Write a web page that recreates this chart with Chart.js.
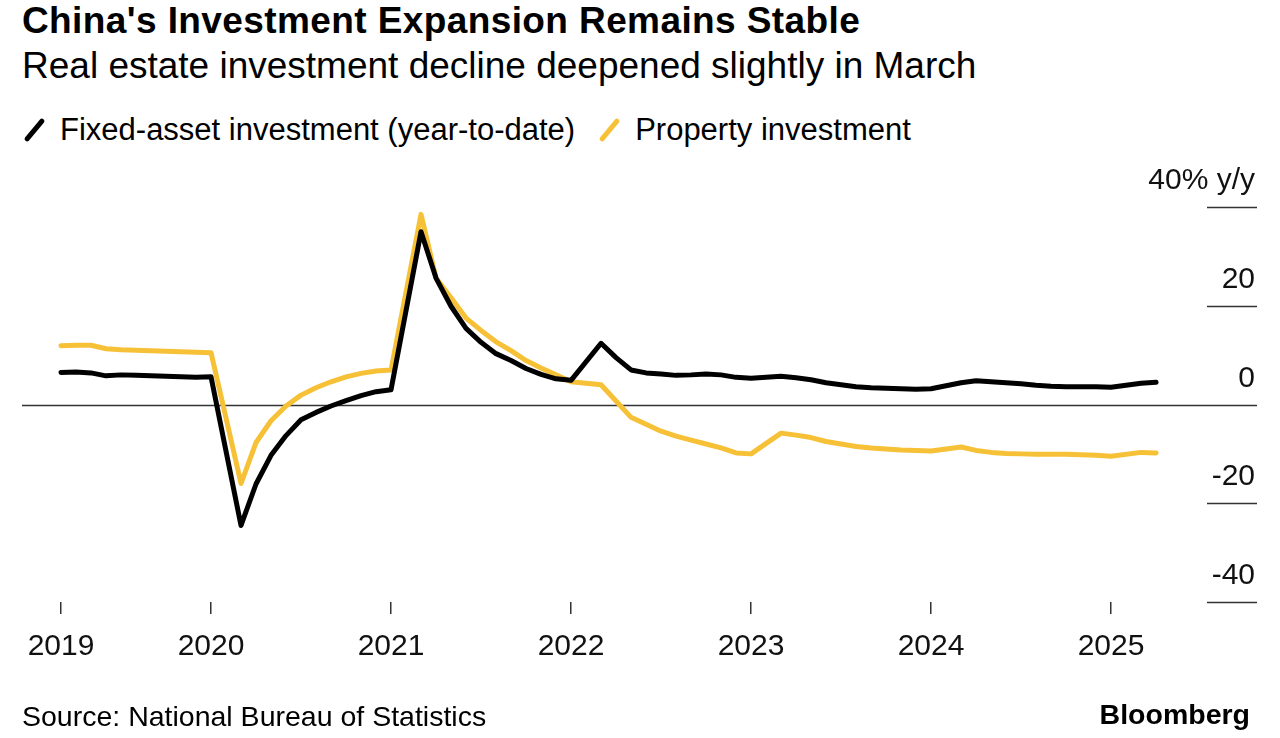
<!DOCTYPE html>
<html lang="en">
<head>
  <meta charset="UTF-8" />
  <title>China's Investment Expansion Remains Stable</title>
  <style>
    body {
      margin: 0;
      width: 1280px;
      height: 738px;
      overflow: hidden;
      position: relative;
      background: #fff;
      color: #000;
      font-family: 'Liberation Sans', Arial, sans-serif;
    }
    .title, .subtitle, .legend, .source, .brand { position: absolute; line-height: 1; white-space: nowrap; }
    .title {
      left: 22px;
      top: 2px;
      font-size: 37px;
      font-weight: bold;
      letter-spacing: 0.4px;
    }
    .subtitle {
      left: 22px;
      top: 47px;
      font-size: 37px;
    }
    .legend {
      left: 22px;
      top: 114px;
      font-size: 31px;
      display: flex;
      align-items: center;
    }
    .legend .item { display: flex; align-items: center; margin-right: 22px; }
    .legend .swatch {
      width: 5px;
      height: 28px;
      border-radius: 3px;
      transform: rotate(40deg);
      margin: 0 23px 0 10px;
    }
    .source {
      left: 22px;
      top: 702px;
      font-size: 28.5px;
    }
    .brand {
      right: 30px;
      top: 700px;
      font-size: 28.5px;
      font-weight: bold;
    }
    canvas { position: absolute; left: 0; top: 0; }
  </style>
</head>
<body>
  <div class="title">China's Investment Expansion Remains Stable</div>
  <div class="subtitle">Real estate investment decline deepened slightly in March</div>
  <div class="legend">
    <div class="item"><span class="swatch" style="background:#000"></span>Fixed-asset investment (year-to-date)</div>
    <div class="item"><span class="swatch" style="background:#F6C136"></span>Property investment</div>
  </div>
  <canvas id="chart" width="1280" height="738"></canvas>
  <div class="source">Source: National Bureau of Statistics</div>
  <div class="brand">Bloomberg</div>

  <script src="https://cdn.jsdelivr.net/npm/chart.js"></script>
  <script>
    // periods: month-end readings, Jan is folded into Feb
    const years = [2019, 2020, 2021, 2022, 2023, 2024, 2025];
    const months = [2, 3, 4, 5, 6, 7, 8, 9, 10, 11, 12];
    const lastYearMonths = [2, 3];

    // % y/y
    const fixedAsset = [
      6.5, 6.6, 6.4, 5.8, 6.0, 5.9, 5.8, 5.7, 5.6, 5.5, 5.6,            // 2019
      -24.5, -16.1, -10.3, -6.3, -3.1, -1.6, -0.3, 0.8, 1.8, 2.6, 3.0,   // 2020
      35.0, 25.6, 19.9, 15.4, 12.6, 10.3, 8.9, 7.3, 6.1, 5.2, 4.9,       // 2021
      12.4, 9.5, 7.0, 6.4, 6.2, 5.9, 6.0, 6.2, 6.0, 5.5, 5.3,            // 2022
      5.7, 5.4, 5.0, 4.4, 4.0, 3.6, 3.4, 3.3, 3.2, 3.1, 3.2,             // 2023
      4.4, 4.8, 4.6, 4.4, 4.2, 3.9, 3.7, 3.6, 3.6, 3.6, 3.5,             // 2024
      4.3, 4.5                                                           // 2025
    ];
    const property = [
      11.9, 12.0, 12.0, 11.3, 11.1, 11.0, 10.9, 10.8, 10.7, 10.6, 10.5,  // 2019
      -16.0, -7.7, -3.3, -0.3, 1.9, 3.4, 4.6, 5.6, 6.3, 6.8, 7.0,        // 2020
      38.5, 25.6, 21.6, 17.5, 15.0, 12.7, 10.9, 8.9, 7.4, 6.0, 4.6,      // 2021
      4.0, 0.7, -2.6, -4.0, -5.4, -6.4, -7.2, -8.0, -8.8, -9.8, -10.0,   // 2022
      -5.8, -6.2, -6.7, -7.5, -8.0, -8.5, -8.8, -9.0, -9.2, -9.3, -9.4,  // 2023
      -8.6, -9.3, -9.7, -9.9, -10.0, -10.1, -10.1, -10.1, -10.2, -10.3, -10.5, // 2024
      -9.7, -9.8                                                         // 2025
    ];

    const xTicks = [2019 + 2 / 12, 2020, 2021, 2022, 2023, 2024, 2025];
    const xTickLabels = ['2019', '2020', '2021', '2022', '2023', '2024', '2025'];
    const yTicks = [40, 20, 0, -20, -40];
    const yTickLabels = ['40% y/y', '20', '0', '-20', '-40'];

    // x position = year + month/12 (end of month)
    const xs = [];
    years.forEach(y => {
      const ms = y === 2025 ? lastYearMonths : months;
      ms.forEach(m => xs.push(y + m / 12));
    });
    const toPoints = arr => arr.map((v, i) => ({ x: xs[i], y: v }));

    const rightAxis = {
      id: 'rightAxis',
      beforeDatasetsDraw(chart) {
        const { ctx, chartArea, scales: { y } } = chart;
        const edge = chart.width - 23;
        ctx.save();
        ctx.strokeStyle = '#333';
        ctx.lineWidth = 1.5;
        ctx.fillStyle = '#111';
        ctx.font = "30px 'Liberation Sans', Arial, sans-serif";
        ctx.textAlign = 'right';
        ctx.textBaseline = 'middle';
        yTicks.forEach((v, i) => {
          const py = Math.round(y.getPixelForValue(v)) + 0.5;
          ctx.beginPath();
          ctx.moveTo(v === 0 ? chartArea.left : chartArea.right, py);
          ctx.lineTo(edge, py);
          ctx.stroke();
          ctx.fillText(yTickLabels[i], edge - 2, py - 27);
        });
        ctx.restore();
      }
    };

    new Chart(document.getElementById('chart'), {
      type: 'line',
      data: {
        datasets: [
          {
            label: 'Fixed-asset investment (year-to-date)',
            data: toPoints(fixedAsset),
            borderColor: '#000',
            borderWidth: 5
          },
          {
            label: 'Property investment',
            data: toPoints(property),
            borderColor: '#F6C136',
            borderWidth: 5
          }
        ]
      },
      options: {
        responsive: false,
        animation: false,
        devicePixelRatio: 1,
        layout: { padding: { left: 22, right: 73, top: 207, bottom: 76 } },
        elements: {
          point: { radius: 0 },
          line: { tension: 0, borderJoinStyle: 'round', borderCapStyle: 'round' }
        },
        plugins: { legend: { display: false }, tooltip: { enabled: false } },
        scales: {
          x: {
            type: 'linear',
            min: 2018.95,
            max: 2025.533,
            afterBuildTicks: scale => { scale.ticks = xTicks.map(v => ({ value: v })); },
            afterFit: scale => { scale.height = 60; },
            border: { display: false },
            grid: { drawOnChartArea: false, drawTicks: true, tickLength: 12, color: '#333', lineWidth: 1.5 },
            ticks: {
              autoSkip: false,
              maxRotation: 0,
              padding: 15,
              color: '#111',
              font: { family: "'Liberation Sans', Arial, sans-serif", size: 30 },
              callback: (v, i) => xTickLabels[i]
            }
          },
          y: {
            display: false,
            min: -40,
            max: 40
          }
        }
      },
      plugins: [rightAxis]
    });
  </script>
</body>
</html>
